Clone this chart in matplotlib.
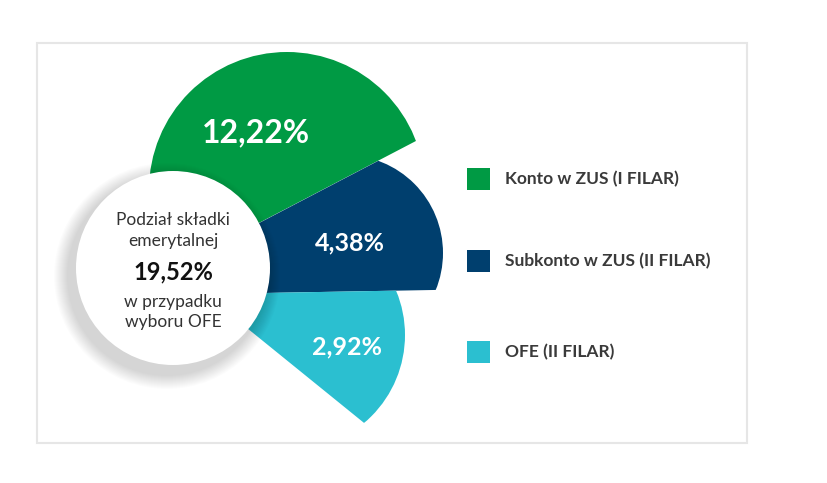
import matplotlib.pyplot as plt
from matplotlib.patches import Circle, Polygon, Rectangle

plt.rcParams['font.family'] = ['Lato', 'DejaVu Sans']

labels = ['Konto w ZUS (I FILAR)', 'Subkonto w ZUS (II FILAR)', 'OFE (II FILAR)']
values = ['12,22%', '4,38%', '2,92%']
colors = ['#009a44', '#003f6e', '#2bbfd0']
total = '19,52%'
center_lines = ['Podział składki', 'emerytalnej', None, 'w przypadku', 'wyboru OFE']

W, H = 828, 483
fig = plt.figure(figsize=(W / 100, H / 100), dpi=100)
ax = fig.add_axes([0, 0, 1, 1])
ax.set_xlim(0, W)
ax.set_ylim(H, 0)
ax.axis('off')

# frame
ax.add_patch(Rectangle((37, 43), 710, 400, fill=False, ec='#e6e6e6', lw=1.5))

cx, cy = 173, 268

# each segment: circle (x, y, r) clipped by a polygon region
segments = [
    ((287, 190, 138), [(0, 358), (828, -74), (828, -300), (0, -300)]),
    ((345, 253, 98), [(173, 268), (828, -74), (828, 283), (173, 294.6)]),
    ((290, 335, 115), [(205, 294), (828, 283), (828, 799)]),
]
for ((x, y, r), poly), col in zip(segments, colors):
    clip = Polygon(poly, closed=True, transform=ax.transData, fc='none', ec='none')
    ax.add_patch(clip)
    c = Circle((x, y), r, fc=col, ec='none', zorder=2)
    ax.add_patch(c)
    c.set_clip_path(clip)

# shadow of white circle
for i in range(14):
    ax.add_patch(Circle((cx - 6, cy + 8), 97 + 16 - i, fc='black', ec='none',
                        alpha=0.012, zorder=3))
ax.add_patch(Circle((cx, cy), 97, fc='white', ec='none', zorder=4))

# value labels
ax.text(256, 133, values[0], color='white', fontsize=23, fontweight='bold',
        ha='center', va='center', zorder=5)
ax.text(350, 243, values[1], color='white', fontsize=18, fontweight='bold',
        ha='center', va='center', zorder=5)
ax.text(347, 347, values[2], color='white', fontsize=18, fontweight='bold',
        ha='center', va='center', zorder=5)

# center text
ys = [220, 241, 272, 302, 322]
for y, t in zip(ys, center_lines):
    if t is None:
        ax.text(cx, y, total, fontsize=17, fontweight='bold', color='#111111',
                ha='center', va='center', zorder=5)
    else:
        ax.text(cx, y, t, fontsize=12.5, color='#333333',
                ha='center', va='center', zorder=5)

# legend
for y, lab, col in zip([179, 261, 352], labels, colors):
    ax.add_patch(Rectangle((467, y - 11), 23, 22, fc=col, ec='none'))
    ax.text(505, y, lab, fontsize=12.5, fontweight='bold', color='#3a3a3a',
            ha='left', va='center')

fig.savefig('out.png', dpi=100)
